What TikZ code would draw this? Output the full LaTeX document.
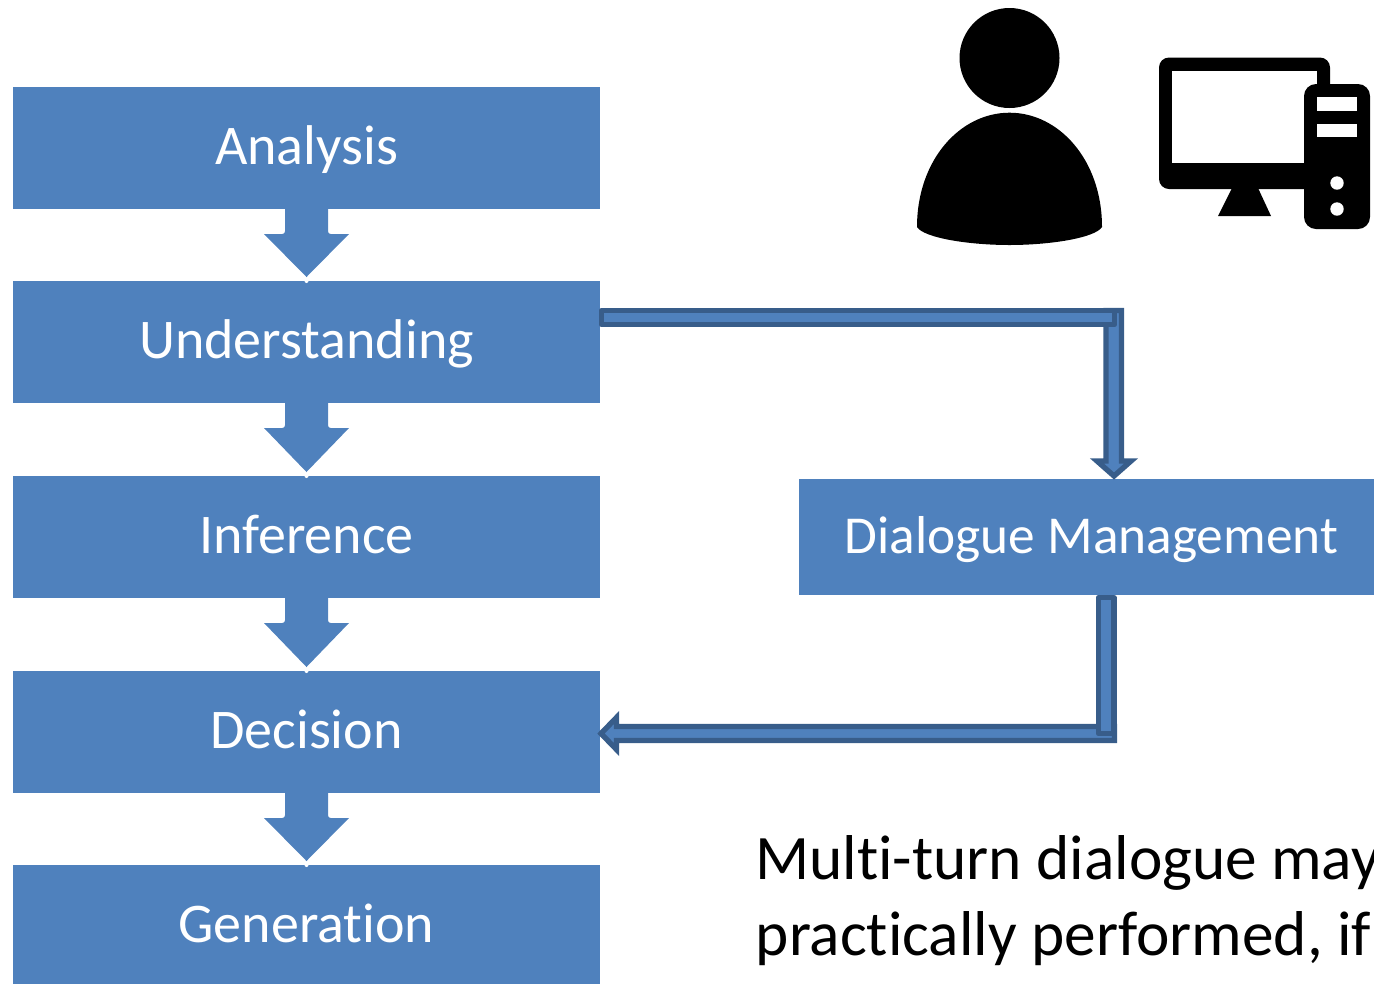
\documentclass[tikz,border=0pt]{standalone}
\usepackage{fontspec}
\setmainfont[Ligatures=NoCommon]{Carlito}
\usetikzlibrary{calc}
\definecolor{boxblue}{HTML}{4F81BD}
\definecolor{edgeblue}{HTML}{385D8A}
\tikzset{
  stage/.style={fill=boxblue,text=white,inner sep=0pt,outer sep=0pt,font=\fontsize{42}{48}\selectfont,anchor=center,text height=30pt,text depth=6pt},
  leftstage/.style={stage,minimum width=587*0.75pt,minimum height=122*0.75pt},
  flowarrow/.style={fill=boxblue},
  pipe/.style={fill=boxblue,draw=edgeblue,line width=4pt,line join=miter},
  body/.style={anchor=base west,inner sep=0pt,font=\fontsize{47.5}{54}\selectfont,text=black},
  icon/.style={fill=black},
  iconhole/.style={fill=white}
}
\newcommand{\blockdown}[2]{%
  \fill[flowarrow] ($(#1.south)+(-21.5,-1)$) {[rounded corners=2pt] -- ($(#1.south)+(-21.5,25)$)} -- ($(#1.south)+(-42.5,25)$)
    -- ($(#2.north)+(0,-4)$) -- ($(#1.south)+(42.5,25)$) {[rounded corners=2pt] -- ($(#1.south)+(21.5,25)$)} -- ($(#1.south)+(21.5,-1)$) -- cycle;
  \fill[white] (#2.north) circle[radius=2];
}
\begin{document}
\begin{tikzpicture}[x=0.75pt,y=-0.75pt]
\useasboundingbox (0,0) rectangle (1374,983);
\clip (0,0) rectangle (1374,983);
% stages
\node[leftstage] (analysis) at (306.5,148) {Analysis};
\node[leftstage] (understanding) at (306.5,342) {Understanding};
\node[leftstage] (inference) at (306.5,537) {Inference};
\node[leftstage] (decision) at (306.5,732) {Decision};
\node[leftstage] (generation) at (306.5,926) {Generation};
\node[stage,font=\fontsize{40}{48}\selectfont,minimum width=585*0.75pt,minimum height=116*0.75pt] (dialogue) at (1091.5,537) {Dialogue Management};
% block arrows
\blockdown{analysis}{understanding}
\blockdown{understanding}{inference}
\blockdown{inference}{decision}
\blockdown{decision}{generation}
% understanding -> dialogue
\coordinate (dmtop) at (1114,476);
\draw[pipe] (1106,310.5) -- (1121.5,310.5) -- (1121.5,461) -- (1131,461) -- (dmtop) -- (1097,461) -- (1106,461) -- cycle;
\draw[pipe,line join=round] (601.5,310.5) -- (1114.5,310.5) -- (1114.5,324.5) -- (601.5,324.5) -- cycle;
% dialogue -> decision
\coordinate (dectip) at (decision.east |- 0,733.5);
\draw[pipe] (1114.5,726.5) -- (616.5,726.5) -- (616.5,717.5) -- ($(dectip)+(1,0)$) -- (616.5,749.5) -- (616.5,740.5) -- (1114.5,740.5) -- cycle;
\draw[pipe,line join=round] (1098.5,597.5) -- (1114,597.5) -- (1114,733.5) -- (1098.5,733.5) -- cycle;
% person
\fill[icon] (1009.5,58) circle[radius=50];
\fill[icon] (917,227) .. controls (917,160) and (960,112.7) .. (1009.5,112.7)
  .. controls (1059,112.7) and (1102,160) .. (1102,227)
  .. controls (1095,238) and (1050,245) .. (1009.5,245)
  .. controls (969,245) and (924,238) .. (917,227) -- cycle;
% computer
\fill[icon,rounded corners=7.5pt] (1159,57.5) rectangle (1330,189);
\fill[iconhole] (1172,71) rectangle (1317,163);
\fill[icon] (1232,188) -- (1258,188) -- (1271,216) -- (1218,216) -- cycle;
\fill[iconhole] (1330.5,50) rectangle (1345,83.5);
\fill[icon,rounded corners=9pt] (1304,84) rectangle (1370,229);
\fill[iconhole] (1317,97) rectangle (1357,110.5);
\fill[iconhole] (1317,123.5) rectangle (1357,137);
\fill[iconhole] (1337,183) circle[radius=6.7];
\fill[iconhole] (1337,209) circle[radius=6.7];
% text
\node[body] (line1) at (755,879) {Multi-turn dialogue may};
\node[body] (line2) at (755.5,955) {practically performed, if};
\end{tikzpicture}
\end{document}
